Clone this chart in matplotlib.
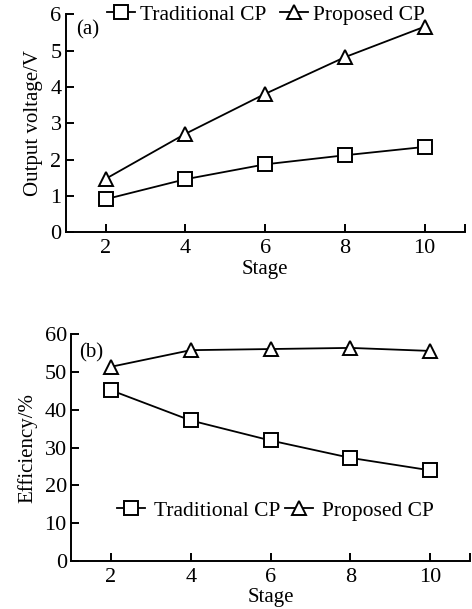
import matplotlib
matplotlib.use("Agg")
import matplotlib.pyplot as plt

plt.rcParams['font.family'] = ['Liberation Serif', 'DejaVu Serif']
plt.rcParams['mathtext.fontset'] = 'stix'

stages = [2, 4, 6, 8, 10]
volt_trad = [0.91, 1.46, 1.87, 2.12, 2.35]
volt_prop = [1.47, 2.71, 3.81, 4.82, 5.66]
eff_trad = [45.2, 37.2, 31.9, 27.3, 24.0]
eff_prop = [51.4, 55.8, 56.1, 56.4, 55.6]
xticks = [2, 4, 6, 8, 10, 11]
xticklabels = ['2', '4', '6', '8', '10', '']
labels = ['Traditional CP', 'Proposed CP']

W, H = 472, 609
fig = plt.figure(figsize=(W/100, H/100), dpi=100)

def px(l, t, r, b):
    return [l/W, 1 - b/H, (r-l)/W, (b-t)/H]

ax1 = fig.add_axes(px(65.7, 14.3, 464.5, 232.3))
ax2 = fig.add_axes(px(71, 334.3, 470, 561))

fs = 15
tfs = 16
lfs = 15.5
mk = dict(color='black', markerfacecolor='white', markeredgecolor='black',
          markersize=9.5, markeredgewidth=1.4, linewidth=1.3)

for ax in (ax1, ax2):
    for s in ('top', 'right'):
        ax.spines[s].set_visible(False)
    for s in ('left', 'bottom'):
        ax.spines[s].set_linewidth(1.4)
    ax.set_xlim(1, 11)
    ax.set_xticks(xticks)
    ax.set_xticklabels(xticklabels)
    ax.tick_params(direction='in', length=5.5, width=1.4, labelsize=tfs)
    ax.tick_params(axis='x', pad=5)
    ax.tick_params(axis='y', pad=3)
    ax.set_xlabel('Stage', fontsize=fs, labelpad=1)

# (a)
l1, = ax1.plot(stages, volt_trad, marker='s', **mk)
l2, = ax1.plot(stages, volt_prop, marker='^', **mk)
ax1.set_ylim(0, 6)
ax1.set_yticks(range(0, 7))
ax1.set_ylabel('Output voltage/V', fontsize=fs, labelpad=5)
ax1.text(0.025, 0.93, '(a)', transform=ax1.transAxes, fontsize=fs, va='center', ha='left')
fig.legend([l1, l2], labels, loc='center left', bbox_to_anchor=(107/W, 1 - 15/H),
           frameon=False, fontsize=lfs, handlelength=1.3, handletextpad=0.25,
           columnspacing=0.6, ncol=2, borderaxespad=0, borderpad=0)

# (b)
l3, = ax2.plot(stages, eff_trad, marker='s', **mk)
l4, = ax2.plot(stages, eff_prop, marker='^', **mk)
ax2.set_ylim(0, 60)
ax2.set_yticks(range(0, 61, 10))
ax2.set_ylabel('Efficiency/%', fontsize=fs, labelpad=5)
ax2.text(0.02, 0.92, '(b)', transform=ax2.transAxes, fontsize=fs, va='center', ha='left')
fig.legend([l3, l4], labels, loc='center left', bbox_to_anchor=(117/W, 1 - 511/H),
           frameon=False, fontsize=lfs, handlelength=1.3, handletextpad=0.4,
           columnspacing=0.25, ncol=2, borderaxespad=0, borderpad=0)

fig.savefig('out.png', dpi=100)
